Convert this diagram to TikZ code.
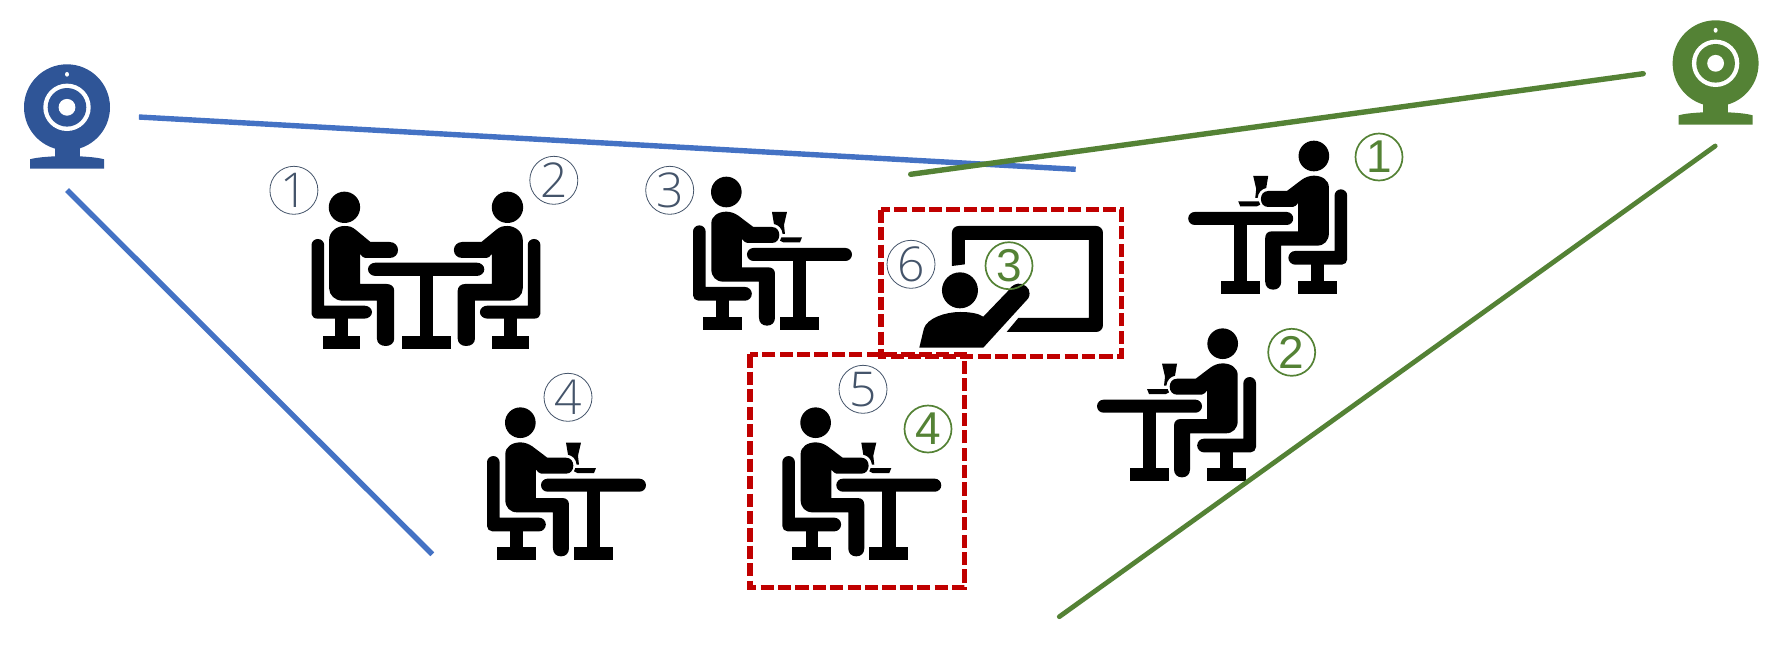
\documentclass[tikz,border=0pt]{standalone}
\usepackage{fontspec}
\setmainfont{Open Sans Light}
\newfontfamily\greenf{Liberation Sans}
\definecolor{lineblue}{HTML}{4472C4}
\definecolor{cambblue}{HTML}{2F5597}
\definecolor{linegreen}{HTML}{548235}
\definecolor{slate}{HTML}{44546A}
\definecolor{boxred}{HTML}{C00000}
\tikzset{
  sight/.style={line width=2.7pt},
  zonebox/.style={draw=boxred,line width=2.6pt,dash pattern=on 6.6pt off 2.1pt},
  numgray/.style={circle,draw=slate,line width=0.4pt,minimum size=24pt,inner sep=0pt,text=slate,font=\fontsize{24}{24}\selectfont},
  numgreen/.style={circle,draw=linegreen,line width=0.85pt,minimum size=23.5pt,inner sep=0pt,text=linegreen,font=\greenf\fontsize{23}{23}\selectfont},
  pics/diner/.style={code={
    \fill (259,96) circle[radius=46];
    % chair
    \fill (159,215) arc[start angle=-180,end angle=0,radius=19] -- (197,381) -- (315,381) arc[start angle=-90,end angle=90,radius=20.5] -- (175,422) arc[start angle=90,end angle=180,radius=16] -- cycle;
    \fill (229,420) rectangle (267,472);
    \fill (189,470) rectangle (306,509);
    % body
    \fill (214,190) .. controls (214,168) and (235,155) .. (259,155) .. controls (272,155) and (285,160) .. (295,167) -- (340,201) -- (396,201) .. controls (410,201) and (418,212) .. (418,225) .. controls (418,238) and (410,249) .. (396,249) -- (322,249) .. controls (316,249) and (312,243) .. (306,237) -- (306,322) -- (385,322) .. controls (398,322) and (405,330) .. (405,342) -- (405,473) .. controls (405,488) and (395,497) .. (381,497) .. controls (367,497) and (357,488) .. (357,473) -- (357,365) -- (250,365) .. controls (228,365) and (214,350) .. (214,328) -- cycle;
    % table
    \fill (340.5,264) -- (616.5,264) arc[start angle=-90,end angle=90,radius=19.5] -- (340.5,303) arc[start angle=90,end angle=270,radius=19.5] -- cycle;
    \fill (459,300) rectangle (499,472);
    \fill (420,470) rectangle (537,509);
    % glass and plate
    \fill (396,156) -- (441,156) -- (432,195) -- (435,222) -- (428,222) .. controls (426,205) and (416,195) .. (402,192) -- cycle;
    \fill (424,232) -- (486,232) -- (480,247) -- (430,247) -- (420,242) -- cycle;
  }},
  pics/halfpair/.style={code={
    \fill (900,502) ellipse[x radius=41,y radius=47];
    \fill (814,615) arc[start angle=-180,end angle=0,x radius=16.5,y radius=18] -- (847,797) -- (952,797) arc[start angle=-90,end angle=90,x radius=20,y radius=19.5] -- (830,836) arc[start angle=90,end angle=180,x radius=16,y radius=14] -- cycle;
    \fill (876,834) rectangle (909,890);
    \fill (844,888) rectangle (941,926);
    \fill (860,600) .. controls (860,575) and (880,558) .. (900,558) .. controls (912,558) and (920,560) .. (930,570) -- (968,606) -- (1018,606) .. controls (1032,606) and (1040,618) .. (1040,630) .. controls (1040,643) and (1032,654) .. (1018,654) -- (955,654) .. controls (950,654) and (946,650) .. (941,642) -- (941,732) -- (1010,732) .. controls (1022,732) and (1030,740) .. (1030,752) -- (1030,896) .. controls (1030,910) and (1020,918) .. (1008,918) .. controls (995,918) and (985,910) .. (985,896) -- (985,782) -- (895,782) .. controls (875,782) and (860,765) .. (860,745) -- cycle;
  }},
  pics/webcam/.style={code={
    \fill[#1] (0,0) circle[radius=43];
    \fill[#1] (-12.5,38) rectangle (12.5,51);
    \fill[#1] (-37,61.4) -- (-37,52) .. controls (-30,50) and (-20,49.5) .. (-12.5,49) -- (12.5,49) .. controls (20,49.5) and (30,50) .. (37,52) -- (37,61.4) -- cycle;
    \fill[white] (0,0) circle[radius=23.7];
    \fill[#1] (0,0) circle[radius=19.3];
    \fill[white] (0,0) circle[radius=8.4];
    \fill[white] (0,-33) ellipse[x radius=2,y radius=2.4];
  }},
}
\begin{document}
\begin{tikzpicture}[x=0.5pt,y=-0.5pt]
\useasboundingbox (0,0) rectangle (1788,659);
% webcams
\pic at (67,107.3) {webcam=cambblue};
\pic at (1715.6,63.3) {webcam=linegreen};
% two people at one table
\begin{scope}[shift={(0,40)},xscale=0.3827,yscale=0.3333]
  \pic[transform shape] {halfpair};
  \fill (981.5,668) -- (1245.5,668) arc[start angle=-90,end angle=90,radius=20] -- (981.5,708) arc[start angle=90,end angle=270,radius=20] -- cycle;
  \fill (1098,705) rectangle (1132,890);
  \fill (1051,888) rectangle (1179,926);
\end{scope}
\begin{scope}[shift={(851.9,40)},xscale=-0.3827,yscale=0.3333]
  \pic[transform shape] {halfpair};
\end{scope}
% single diners
\begin{scope}[shift={(640,160)},xscale=0.3333,yscale=0.3333] \pic[transform shape] {diner}; \end{scope}
\begin{scope}[shift={(729.3,390.7)},xscale=0.3333,yscale=0.3333] \pic[transform shape] {diner}; \end{scope}
\begin{scope}[shift={(434,390.7)},xscale=0.3333,yscale=0.3333] \pic[transform shape] {diner}; \end{scope}
\begin{scope}[shift={(1400.2,124)},xscale=-0.3333,yscale=0.3333] \pic[transform shape] {diner}; \end{scope}
\begin{scope}[shift={(1309,311.7)},xscale=-0.3333,yscale=0.3333] \pic[transform shape] {diner}; \end{scope}
% teacher and board
\begin{scope}[shift={(640,160)},scale=0.3333]
  \fill (936,318) -- (936,218) arc[start angle=-180,end angle=-90,radius=20] -- (1369,198) arc[start angle=-90,end angle=0,radius=20] -- (1389,496) arc[start angle=0,end angle=90,radius=20] -- (1100,516) -- (1135,474) -- (1347,474) -- (1347,240) -- (975,240) -- (975,313) -- cycle;
  \fill (960,391) circle[radius=54];
  \fill (838,563) -- (852,505) .. controls (862,475) and (915,456) .. (960,456) .. controls (990,456) and (1015,460) .. (1030,470) -- (1105,392) .. controls (1115,375) and (1130,368) .. (1145,372) .. controls (1165,378) and (1175,395) .. (1165,415) -- (1030,563) -- cycle;
\end{scope}
% sight lines
\coordinate (blueA) at (138.9,117);
\coordinate (blueB) at (1075.7,169.3);
\coordinate (blueC) at (67,190);
\coordinate (blueD) at (432.3,554.3);
\coordinate (greenA) at (1643.2,73.7);
\coordinate (greenB) at (910.7,174.3);
\coordinate (greenC) at (1715.2,146);
\coordinate (greenD) at (1059.3,616.7);
\draw[sight,lineblue] (blueA) -- (blueB);
\draw[sight,lineblue] (blueC) -- (blueD);
\draw[sight,linegreen,line cap=round] (greenA) -- (greenB);
\draw[sight,linegreen,line width=2.4pt,line cap=round] (greenC) -- (greenD);
% zones
\draw[zonebox] (881,209.7) rectangle (1121.3,356.7);
\draw[zonebox] (750,354.3) rectangle (964.7,587.3);
% numbers
\node[numgray] (g1) at (293.9,190.3) {1};
\node[numgray] (g2) at (553.8,180.3) {2};
\node[numgray] (g3) at (669.7,190.3) {3};
\node[numgray] (g4) at (568,397.3) {4};
\node[numgray] (g5) at (863,389.3) {5};
\node[numgray] (g6) at (911,264.3) {6};
\node[numgreen] (n1) at (1379,157) {1};
\node[numgreen] (n2) at (1291.7,352.3) {2};
\node[numgreen] (n3) at (1009,265.7) {3};
\node[numgreen] (n4) at (928,429) {4};
\end{tikzpicture}
\end{document}
